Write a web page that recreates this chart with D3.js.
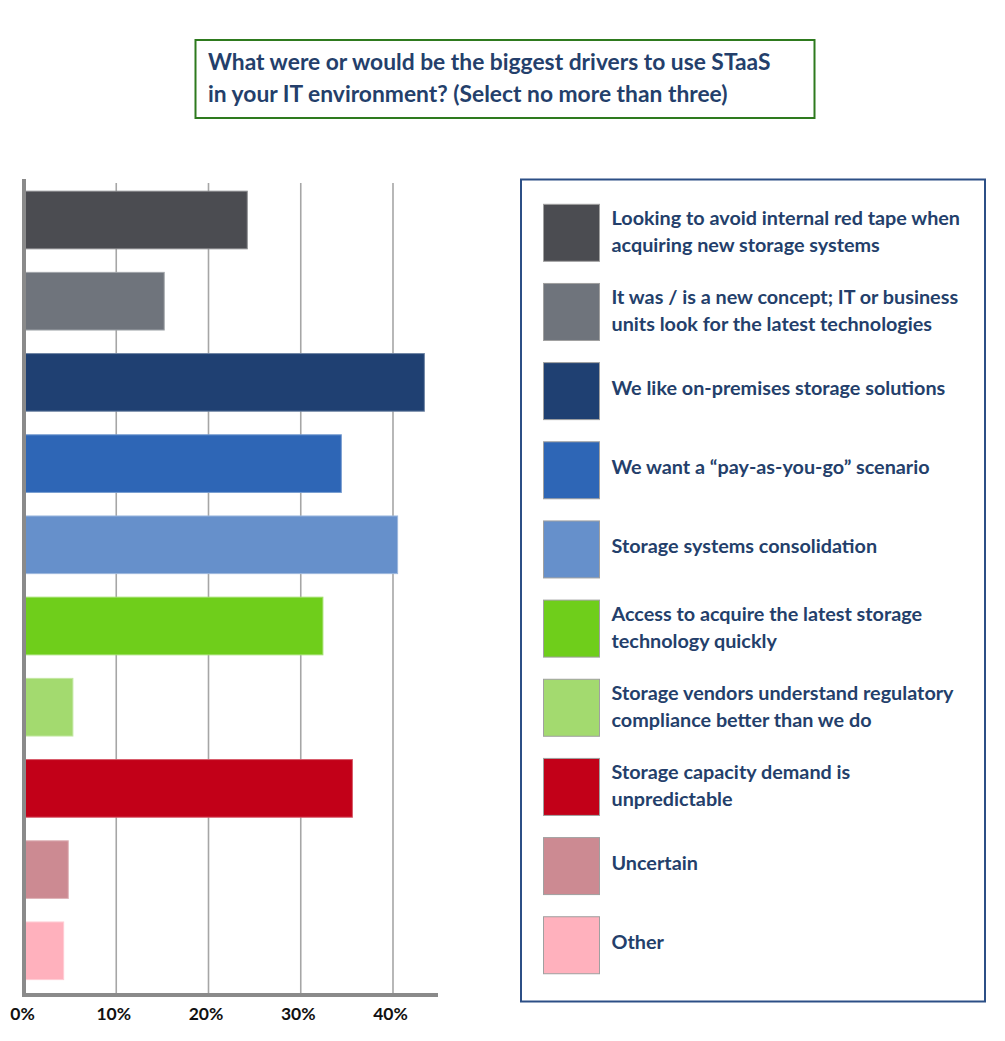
<!DOCTYPE html>
<html>
<head>
<meta charset="utf-8">
<script src="https://cdn.jsdelivr.net/npm/d3@7"></script>
<style>
    body { margin: 0; background: #fff; }
</style>
</head>
<body>
<div id="chart"></div>
<script>
// data
var categories = [
    ["Looking to avoid internal red tape when", "acquiring new storage systems"],
    ["It was / is a new concept; IT or business", "units look for the latest technologies"],
    ["We like on-premises storage solutions"],
    ["We want a \u201cpay-as-you-go\u201d scenario"],
    ["Storage systems consolidation"],
    ["Access to acquire the latest storage", "technology quickly"],
    ["Storage vendors understand regulatory", "compliance better than we do"],
    ["Storage capacity demand is", "unpredictable"],
    ["Uncertain"],
    ["Other"]
];
var values = [0.242, 0.152, 0.434, 0.344, 0.405, 0.324, 0.053, 0.356, 0.048, 0.043];
var colors = ["#4b4c51", "#6f747c", "#1f4072", "#2e66b6", "#6690cb",
    "#6fce1b", "#a3da6f", "#c20018", "#cc8a92", "#ffb1bd"];
var tickValues = [0, 0.1, 0.2, 0.3, 0.4];
var titleLines = ["What were or would be the biggest drivers to use STaaS",
    "in your IT environment? (Select no more than three)"];

var width = 1005, height = 1041;
var fontFamily = "Lato, 'Open Sans', sans-serif";
var textBlue = "#243f6b";

var svg = d3.select("#chart").append("svg")
    .attr("width", width)
    .attr("height", height);

//标题框
var gTitle = svg.append("g").attr("class", "gTitle");
gTitle.append("rect")
    .attr("x", 195.5)
    .attr("y", 40)
    .attr("width", 619)
    .attr("height", 78)
    .attr("fill", "#fff")
    .attr("stroke", "#2e7a1e")
    .attr("stroke-width", 2);
gTitle.selectAll("text")
    .data(titleLines)
    .enter().append("text")
    .attr("x", 208)
    .attr("y", function (d, i) { return 70 + i * 32; })
    .attr("fill", textBlue)
    .attr("font-family", fontFamily)
    .attr("font-weight", "bold")
    .attr("font-size", "22.8px")
    .text(function (d) { return d; });

// scales
var x = d3.scaleLinear().domain([0, 0.4]).range([24, 393]);
var y = d3.scaleBand()
    .domain(d3.range(values.length))
    .range([179.4, 991.4])
    .paddingInner(0.29)
    .paddingOuter(0.145);

//网格线
var gGrid = svg.append("g").attr("class", "gGrid");
gGrid.selectAll("line")
    .data(tickValues.slice(1))
    .enter().append("line")
    .attr("x1", function (d) { return x(d); })
    .attr("x2", function (d) { return x(d); })
    .attr("y1", 183)
    .attr("y2", 995)
    .attr("stroke", "#a6a6a6")
    .attr("stroke-width", 1.6);

//柱子
var gBars = svg.append("g").attr("class", "gBars");
gBars.selectAll("rect")
    .data(values)
    .enter().append("rect")
    .attr("x", x(0))
    .attr("y", function (d, i) { return y(i); })
    .attr("width", function (d) { return x(d) - x(0); })
    .attr("height", y.bandwidth())
    .attr("fill", function (d, i) { return colors[i]; })
    .attr("stroke", function (d, i) { return d3.interpolateRgb(colors[i], "#fff")(0.35); })
    .attr("stroke-width", 1);

// axes lines
svg.append("line")
    .attr("x1", 24).attr("x2", 24)
    .attr("y1", 179).attr("y2", 997)
    .attr("stroke", "#8a8a8a")
    .attr("stroke-width", 4);
svg.append("line")
    .attr("x1", 22).attr("x2", 438)
    .attr("y1", 995).attr("y2", 995)
    .attr("stroke", "#8a8a8a")
    .attr("stroke-width", 4);

// tick labels via d3 axis
var xAxis = d3.axisBottom(x)
    .tickValues(tickValues)
    .tickFormat(d3.format(".0%"))
    .tickSize(0)
    .tickPadding(0);
var gAxis = svg.append("g")
    .attr("transform", "translate(0,1008)")
    .call(xAxis);
gAxis.select(".domain").remove();
gAxis.selectAll("text")
    .attr("fill", "#111")
    .attr("font-family", fontFamily)
    .attr("font-weight", "bold")
    .attr("font-size", "17.5px");
gAxis.selectAll(".tick text").attr("dx", function (d) { return d === 0 ? -2 : -3; });

//图例
var gLegend = svg.append("g").attr("class", "gLegend");
gLegend.append("rect")
    .attr("x", 521)
    .attr("y", 179.5)
    .attr("width", 464)
    .attr("height", 822)
    .attr("fill", "#fff")
    .attr("stroke", "#2c4f86")
    .attr("stroke-width", 2);

var legendStep = 79.16;
var items = gLegend.selectAll("g.item")
    .data(categories)
    .enter().append("g")
    .attr("class", "item")
    .attr("transform", function (d, i) { return "translate(543.5," + (204.3 + i * legendStep) + ")"; });
items.append("rect")
    .attr("width", 56)
    .attr("height", 57)
    .attr("fill", function (d, i) { return colors[i]; })
    .attr("stroke", "#a0a0a0")
    .attr("stroke-width", 1);
items.each(function (d) {
    var g = d3.select(this);
    var text = g.append("text")
        .attr("x", 68)
        .attr("fill", textBlue)
        .attr("font-family", fontFamily)
        .attr("font-weight", "bold")
        .attr("font-size", "19.8px");
    var base = d.length > 1 ? 21 : 32;
    text.selectAll("tspan")
        .data(d)
        .enter().append("tspan")
        .attr("x", 68)
        .attr("y", function (t, j) { return base + j * 26.5; })
        .text(function (t) { return t; });
});
</script>
</body>
</html>
